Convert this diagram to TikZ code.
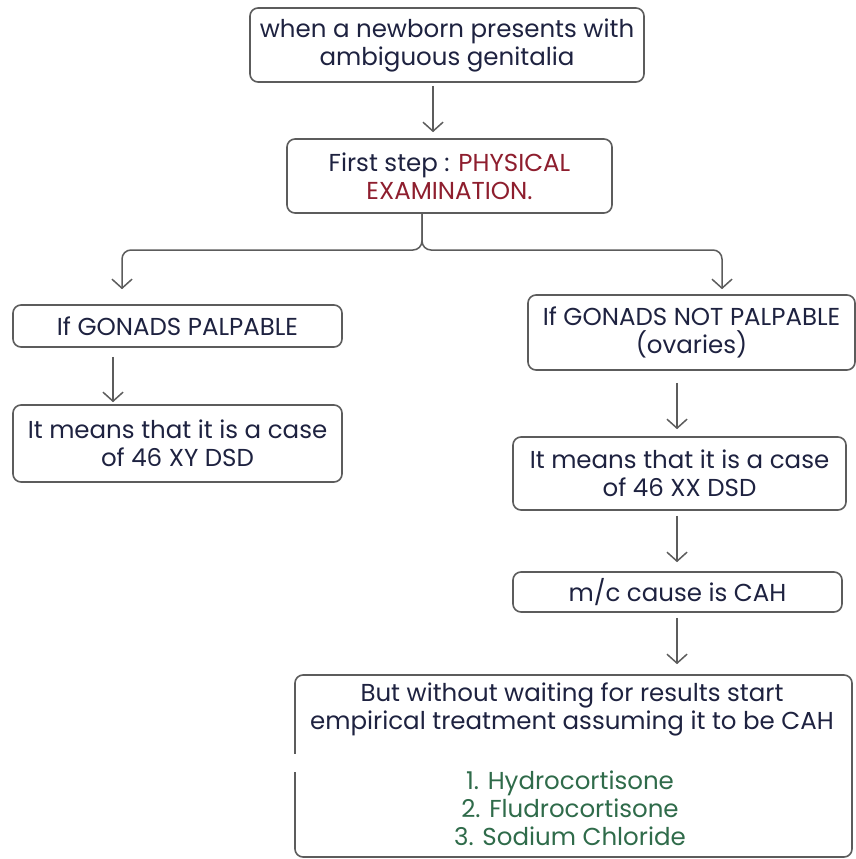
\documentclass[tikz,border=0pt]{standalone}
\usepackage{fontspec}
\setmainfont{Poppins}
\usetikzlibrary{arrows.meta}
\definecolor{ink}{HTML}{1E2240}
\definecolor{wine}{HTML}{8E1E2E}
\definecolor{leaf}{HTML}{2F6B4A}
\definecolor{edge}{HTML}{5C5C5C}
\tikzset{
  box/.style={draw=edge, line width=1.6pt, rounded corners=8pt, fill=white,
    inner sep=0pt, align=center, text=ink, font=\fontsize{24.5}{28}\selectfont},
  txt/.style={inner sep=0pt, align=center, font=\fontsize{24.5}{28}\selectfont},
  link/.style={draw=edge, line width=1.5pt,
    -{Straight Barb[length=9pt,width=20pt,line width=1.5pt]}},
}
\begin{document}
\begin{tikzpicture}[x=1pt,y=-1pt]
\useasboundingbox (0,0) rectangle (856,859);

% boxes
\node[box, minimum width=394pt, minimum height=74pt] (start) at (447,45)
  {when a newborn presents with\\ambiguous genitalia};
\node[box, minimum width=325pt, minimum height=74pt] (exam) at (449.5,176)
  {First step : \textcolor{wine}{PHYSICAL}\\\textcolor{wine}{EXAMINATION.}};
\node[box, minimum width=329pt, minimum height=42pt] (palp) at (177.5,326)
  {If GONADS PALPABLE};
\node[box, minimum width=329pt, minimum height=77pt] (xy) at (177.5,443.5)
  {It means that it is a case\\of 46 XY DSD};
\node[box, minimum width=327pt, minimum height=75pt] (nopalp) at (691.5,332.5)
  {If GONADS NOT PALPABLE\\(ovaries)};
\node[box, minimum width=333pt, minimum height=73pt] (xx) at (679.5,473.5)
  {It means that it is a case\\of 46 XX DSD};
\node[box, minimum width=329pt, minimum height=40pt] (cah) at (677.5,592)
  {m/c cause is CAH};
\node[box, minimum width=557pt, minimum height=182pt] (treat) at (573.5,766) {};

% torn strip across the last box
\fill[white] (289,754) rectangle (470,772);

% texts of the last box
\node[txt, text=ink] (advice) at (572,709)
  {But without waiting for results start\\empirical treatment assuming it to be CAH};
\node[txt, text=leaf] (drugs) at (570,808)
  {1. Hydrocortisone\\2. Fludrocortisone\\3. Sodium Chloride};

% connectors
\draw[link, shorten <=3pt, shorten >=6pt] (start.south -| 433,0) -- (exam.north -| 433,0);
\draw[link, rounded corners=9pt, shorten >=15pt] (exam.south -| 422,0) -- (422,250) -| (palp.north -| 122,0);
\draw[link, rounded corners=9pt, shorten >=5pt] (exam.south -| 422,0) -- (422,250) -| (nopalp.north -| 722,0);
\draw[link, shorten <=9pt, shorten >=2pt] (palp.south -| 113,0) -- (xy.north -| 113,0);
\draw[link, shorten <=12pt, shorten >=7pt] (nopalp.south -| 677,0) -- (xx.north -| 677,0);
\draw[link, shorten <=5pt, shorten >=9pt] (xx.south -| 677,0) -- (cah.north -| 677,0);
\draw[link, shorten <=5pt, shorten >=10pt] (cah.south -| 677,0) -- (treat.north -| 677,0);
\end{tikzpicture}
\end{document}
